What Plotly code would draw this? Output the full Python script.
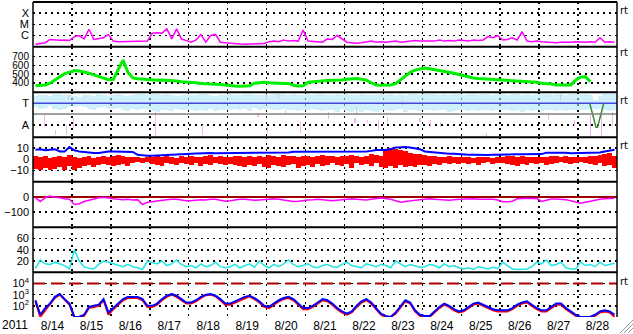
import pandas as pd
import plotly.graph_objects as go

# ---------------- data (3-hour slots from 2011-08-14 00:00) ----------------
start = pd.Timestamp("2011-08-14")
slots = pd.date_range(start, periods=120, freq="3h")

xray_log = [
    -6.79, -6.70, -6.64, -6.35, -6.40, -6.42, -6.40, -6.45,
    -6.10, -6.00, -6.30, -5.44, -6.35, -6.30, -6.20, -5.90,
    -6.50, -6.55, -6.55, -6.50, -6.55, -6.50, -6.55, -6.50,
    -5.80, -5.75, -5.80, -5.40, -6.30, -5.40, -6.30, -6.45,
    -6.60, -6.40, -5.90, -6.60, -6.00, -5.90, -6.60, -6.65,
    -6.70, -6.72, -6.76, -6.78, -6.76, -6.78, -6.75, -6.72,
    -6.55, -6.50, -6.55, -6.40, -6.50, -6.45, -6.50, -5.50,
    -6.50, -6.55, -6.55, -6.60, -6.30, -6.35, -6.00, -6.30,
    -6.60, -6.65, -6.70, -6.65, -6.60, -6.50, -6.60, -6.55,
    -6.60, -6.55, -6.50, -6.60, -6.55, -6.50, -6.45, -6.50,
    -6.50, -6.45, -6.50, -6.40, -6.50, -6.45, -6.50, -6.40,
    -6.45, -6.50, -6.40, -6.45, -6.40, -6.10, -6.20, -6.00,
    -6.40, -6.35, -6.20, -6.40, -5.66, -6.50, -6.55, -6.50,
    -6.55, -6.60, -6.62, -6.65, -6.60, -6.62, -6.60, -6.55,
    -6.60, -6.60, -6.55, -6.60, -6.20, -6.60, -6.55, -6.60,
]

speed = [
    365, 370, 375, 395, 430, 470, 505, 520,
    540, 535, 525, 510, 490, 470, 450, 435,
    440, 560, 660, 520, 455, 445, 440, 438,
    435, 430, 432, 428, 430, 420, 412, 410,
    405, 400, 390, 385, 385, 383, 380, 372,
    365, 362, 360, 362, 365, 395, 400, 405,
    400, 395, 393, 390, 392, 370, 362, 365,
    405, 412, 415, 420, 425, 430, 428, 432,
    440, 445, 448, 440, 430, 400, 375, 370,
    372, 375, 390, 430, 480, 520, 545, 560,
    570, 560, 550, 545, 535, 525, 510, 495,
    480, 465, 455, 448, 445, 440, 438, 435,
    430, 425, 420, 418, 420, 415, 410, 405,
    395, 393, 385, 375, 373, 373, 375, 430,
    465, 470, 412, None, None, None, None, None,
]

phi_hi = [
    330, 335, 340, 330, 346, 350, 340, 335,
    330, 320, 335, 340, 330, 345, 340, 330,
    340, 346, 335, 330, 338, 345, 350, 340,
    346, 350, 340, 345, 338, 330, 340, 335,
    340, 335, 345, 350, 340, 330, 338, 342,
    345, 340, 336, 350, 345, 338, 342, 335,
    340, 346, 350, 345, 338, 344, 340, 336,
    346, 340, 345, 350, 338, 342, 346, 340,
    344, 338, 342, 346, 340, 336, 342, 345,
    340, 346, 342, 350, 338, 344, 348, 342,
    346, 350, 344, 340, 348, 342, 346, 350,
    342, 346, 350, 340, 344, 348, 342, 346,
    346, 340, 345, 350, 342, 346, 340, 344,
    350, 346, 342, 348, 344, 340, 346, 350,
    344, 346, 340, 300, 330, 346, 348, 350,
]
phi_lo = [
    240, 230, 235, 250, 230, 215, 225, 240,
    245, 250, 240, 230, 220, 235, 240, 230,
    230, 235, 222, 210, 225, 218, 230, 224,
    210, 205, 215, 220, 210, 225, 215, 220,
    215, 208, 220, 212, 225, 210, 218, 222,
    220, 230, 215, 225, 210, 235, 220, 225,
    225, 215, 220, 230, 218, 222, 210, 215,
    215, 225, 220, 210, 218, 222, 205, 225,
    210, 200, 215, 205, 220, 210, 200, 215,
    220, 210, 215, 225, 205, 218, 222, 210,
    215, 220, 210, 222, 215, 205, 212, 220,
    218, 212, 220, 208, 215, 222, 210, 218,
    215, 222, 210, 218, 205, 220, 212, 216,
    210, 218, 222, 212, 215, 208, 220, 215,
    215, 220, 225, 230, 225, 215, 210, 220,
]

# sparse "away" (pink) and grey phi marks: day offset, low, high
pink_day = [0.29, 1.03, 3.15, 4.35, 5.78, 6.02, 6.86, 8.27, 8.58, 8.87, 9.10, 9.94, 10.20, 10.46, 13.25, 13.90, 14.33, 14.60, 14.88, 14.98]
pink_lo = [82, 74, 2, 18, 162, 34, 34, 114, 114, 58, 114, 122, 82, 82, 138, 90, 10, 2, 100, 40]
pink_hi = [178, 154, 202, 98, 194, 82, 122, 154, 138, 138, 162, 154, 138, 122, 194, 140, 178, 218, 200, 160]
grey_day = [0.57, 0.85, 0.90, 6.00, 6.30, 6.48, 7.60, 8.30, 9.50, 11.65, 13.30, 13.55]
grey_lo = [18, 18, 300, 300, 310, 194, 150, 180, 250, 2, 320, 300]
grey_hi = [58, 98, 340, 350, 345, 218, 200, 240, 300, 34, 350, 350]
model_day = [14.30, 14.46, 14.50, 14.66]
model_phi = [272, 80, 80, 272]

bt = [
    8.5, 9, 8, 8.5, 9, 7, 7, 11,
    8, 7, 6.5, 5.5, 5.5, 5.5, 6.5, 7,
    7, 7, 7, 7, 6.5, 4, 3.5, 3.2,
    3.2, 3.5, 3.8, 4, 4, 4.2, 4.5, 4.8,
    5, 5.2, 5.5, 5.5, 5.5, 5.4, 5.4, 5.4,
    5.4, 5.4, 5.4, 5.4, 5.4, 5.4, 5.4, 5.5,
    5.4, 5.4, 5.4, 5.5, 6, 6.8, 6.8, 7,
    6.8, 6.8, 6.8, 6.8, 6.8, 6.8, 7, 6.8,
    6.8, 6.8, 6.8, 6.8, 7, 7.5, 8.3, 8.3,
    8.3, 9, 10.5, 10.7, 11, 10.5, 10, 9,
    7, 6.5, 6, 5.5, 5.5, 5, 5, 4.5,
    4.2, 4, 4, 3.8, 3.8, 3.8, 4, 4.2,
    4.5, 4.5, 4.5, 4.5, 4.5, 4.5, 4.6, 4.6,
    4.6, 5.9, 6, 6, 5.9, 5.8, 5.4, 5.4,
    5.4, 5.4, 5.4, 5.4, 6, 7, 8, 8.5,
]
bz_lo = [
    -9, -10, -8, -10, -9, -7, -10, -6,
    -10, -8, -6, -5, -7, -5, -4, -5,
    -6, -5, -4, -6, -3, -2, -3, -2,
    -4, -5, -6, -3, -4, -5, -3, -4,
    -5, -3, -6, -4, -5, -3, -4, -5,
    -4, -5, -6, -7, -5, -6, -4, -7,
    -8, -5, -6, -7, -5, -4, -8, -6,
    -5, -7, -4, -6, -5, -3, -5, -6,
    -4, -8, -3, -5, -4, -6, -3, -7,
    -8, -6, -8, -5, -7, -6, -7, -5,
    -5, -6, -4, -5, -3, -4, -3, -4,
    -3, -4, -3, -5, -3, -2, -4, -3,
    -3, -4, -5, -6, -4, -5, -3, -4,
    -3, -5, -4, -3, -2, -3, -4, -3,
    -2, -3, -4, -5, -3, -6, -5, -8,
]
bz_hi = [
    3, 2, 3, 1, 2, 3, 2, 4,
    2, 1, 2, 3, 1, 2, 3, 2,
    3, 4, 3, 2, 2, 2, 1, 2,
    2, 3, 2, 3, 2, 1, 3, 2,
    3, 2, 2, 3, 4, 2, 3, 2,
    2, 3, 3, 2, 3, 2, 3, 2,
    4, 3, 2, 4, 3, 3, 2, 3,
    3, 2, 3, 4, 3, 3, 2, 3,
    3, 4, 3, 2, 3, 5, 4, 3,
    8, 10, 9, 8, 7, 6, 5, 5,
    4, 3, 3, 2, 2, 3, 2, 2,
    2, 2, 1, 2, 2, 2, 1, 2,
    2, 3, 3, 2, 3, 2, 2, 2,
    2, 2, 3, 3, 2, 3, 2, 2,
    2, 2, 3, 3, 4, 5, 6, 3,
]

dst = [
    -5, -30, -5, 5, -3, -5, -12, -16,
    -50, -45, -30, -20, -10, -5, -3, -10,
    -12, -15, -18, -15, -20, -18, -50, -35,
    -30, -25, -20, -18, -15, -15, -20, -25,
    -25, -20, -18, -20, -15, -15, -20, -28,
    -25, -20, -15, -15, -18, -22, -20, -18,
    -15, -12, -15, -20, -25, -30, -28, -22,
    -20, -18, -15, -18, -20, -25, -22, -18,
    -15, -12, -15, -18, -20, -15, -10, -8,
    -10, -15, -25, -35, -30, -25, -20, -18,
    -15, -12, -15, -18, -20, -22, -18, -15,
    -14, -14, -12, -15, -14, -14, -15, -20,
    -32, -32, -28, -12, -9, -9, -10, -9,
    -30, -20, -14, -14, -14, -18, -25, -35,
    -42, -35, -28, -20, -15, -12, -10, -9,
]

panel6 = [
    7, 22, 15, 14, 18, 15, 12, 6,
    40, 20, 10, 7, 6, 14, 20, 18,
    15, 12, 10, 14, 10, 8, 5, 20,
    18, 15, 20, 12, 15, 22, 14, 10,
    12, 8, 15, 10, 12, 18, 10, 8,
    10, 14, 8, 12, 15, 9, 20, 12,
    8, 14, 10, 15, 22, 14, 10, 12,
    15, 10, 8, 12, 14, 10, 9, 14,
    18, 12, 10, 8, 15, 12, 10, 14,
    12, 8, 20, 15, 10, 14, 12, 9,
    10, 14, 12, 8, 15, 10, 12, 8,
    6, 8, 5, 10, 8, 6, 9, 7,
    18, 12, 6, 5, 5, 6, 10, 18,
    15, 22, 12, 14, 18, 8, 6, 6,
    18, 12, 14, 10, 18, 12, 14, 16,
]

elec_blue_log = [
    2.5, 1.2, 1.8, 2.2, 2.8, 3.05, 2.6, 2.2,
    1.0, 1.0, 1.2, 1.9, 2.0, 2.1, 2.6, 1.4,
    1.8, 2.2, 2.6, 2.8, 2.8, 2.8, 2.6, 2.0,
    2.0, 2.2, 2.6, 2.9, 3.05, 2.9, 2.6, 2.3,
    2.3, 2.5, 2.8, 3.0, 3.05, 2.9, 2.6, 2.2,
    2.2, 2.4, 2.6, 2.8, 2.9, 2.7, 2.4, 2.0,
    1.9, 2.2, 2.5, 2.7, 2.8, 2.6, 2.2, 1.8,
    1.8, 2.0, 2.3, 2.6, 2.5, 2.2, 1.8, 1.5,
    1.3, 1.5, 2.0, 2.4, 2.6, 2.3, 1.8, 1.3,
    1.1, 1.0, 1.4, 2.0, 2.5, 2.3, 1.6, 1.2,
    1.1, 1.1, 1.5, 1.9, 2.2, 2.0, 1.7, 1.5,
    1.6, 1.9, 2.2, 2.3, 2.1, 1.9, 1.7, 1.6,
    1.6, 1.6, 1.8, 2.1, 2.3, 2.4, 2.1, 1.8,
    1.6, 1.6, 1.9, 2.2, 2.2, 1.8, 1.5, 1.2,
    1.0, 1.0, 1.0, 1.2, 1.5, 1.6, 1.5, 1.2,
]
elec_red_log = [
    2.4, 1.0, 1.6, 2.1, 2.7, 3.0, 2.5, 2.1,
    1.0, 1.0, 1.1, 1.8, 1.9, 2.0, 2.5, 1.2,
    1.7, 2.1, 2.5, 2.7, 2.7, 2.7, 2.5, 1.9,
    1.9, 2.1, 2.5, 2.8, 3.0, 2.8, 2.5, 2.2,
    2.2, 2.4, 2.7, 2.95, 3.0, 2.85, 2.5, 2.1,
    2.1, 2.3, 2.5, 2.7, 2.85, 2.6, 2.3, 1.9,
    1.8, 2.1, 2.4, 2.6, 2.7, 2.5, 2.1, 1.7,
    1.7, 1.9, 2.2, 2.5, 2.4, 2.1, 1.7, 1.4,
    1.2, 1.4, 1.9, 2.3, 2.5, 2.2, 1.7, 1.2,
    1.0, 1.0, 1.3, 1.9, 2.4, 2.2, 1.5, 1.1,
    1.0, 1.0, 1.4, 1.8, 2.1, 1.9, 1.6, 1.4,
    1.5, 1.8, 2.1, 2.2, 2.0, 1.8, 1.6, 1.5,
    1.5, 1.5, 1.7, 2.0, 2.2, 2.3, 2.0, 1.7,
    1.5, 1.5, 1.8, 2.1, 2.1, 1.7, 1.4, 1.1,
    1.0, 1.0, 1.0, 1.1, 1.4, 1.5, 1.4, 1.0,
]

day_labels = ["8/14", "8/15", "8/16", "8/17", "8/18", "8/19", "8/20", "8/21",
              "8/22", "8/23", "8/24", "8/25", "8/26", "8/27", "8/28"]
xray_ticks = [1e-4, 1e-5, 1e-6]
xray_text = ["X", "M", "C"]
speed_ticks = [700, 600, 500, 400]
phi_ticks = [272, 98]
phi_text = ["T", "A"]
b_ticks = [10, 0, -10]
dst_ticks = [0, -100]
p6_ticks = [60, 40, 20]
e_ticks = [1e4, 1e3, 1e2]
e_text = ["10<sup>4</sup>", "10<sup>3</sup>", "10<sup>2</sup>"]

# ---------------- figure ----------------
W, H = 633, 334
ML, MR, MT, MB = 33, 16, 2, 17
PH = H - MT - MB
bounds_px = [2, 46.7, 92.3, 137.3, 181.7, 227.3, 272.3, 317]


def py(px):
    return (317 - px) / PH


def px_x(px):
    return (px - ML) / (W - ML - MR)


domains = [[py(bounds_px[i + 1]), py(bounds_px[i])] for i in range(7)]
mid = slots + pd.Timedelta(hours=1.5)
slot_ms = 3 * 3600 * 1000
day = pd.Timedelta(days=1)

fig = go.Figure()
xray = [10 ** v for v in xray_log]
fig.add_trace(go.Scatter(x=mid, y=xray, yaxis="y", mode="lines", line=dict(color="#ff00ff", width=1.5)))
fig.add_trace(go.Scatter(x=mid, y=speed, yaxis="y2", mode="lines", line=dict(color="#00ee00", width=3)))

phi_base = phi_lo
phi_h = [h - l for h, l in zip(phi_hi, phi_lo)]
fig.add_trace(go.Bar(x=mid, y=phi_h, base=phi_base, yaxis="y3", width=slot_ms, opacity=0.6,
                     marker=dict(color="#b0e6fa", line=dict(width=0))))
fig.add_trace(go.Bar(x=[start + d * day for d in pink_day], y=[h - l for h, l in zip(pink_hi, pink_lo)], base=pink_lo,
                     yaxis="y3", width=2400 * 1000, marker=dict(color="#f4b4f0", line=dict(width=0))))
fig.add_trace(go.Bar(x=[start + d * day for d in grey_day], y=[h - l for h, l in zip(grey_hi, grey_lo)], base=grey_lo,
                     yaxis="y3", width=2400 * 1000, marker=dict(color="#cccccc", line=dict(width=0))))
fig.add_trace(go.Scatter(x=[start + d * day for d in model_day], y=model_phi, yaxis="y3", mode="lines",
                         line=dict(color="#3c8a3c", width=1.5)))

fig.add_trace(go.Bar(x=mid, y=[h - l for h, l in zip(bz_hi, bz_lo)], base=bz_lo, yaxis="y4", width=slot_ms,
                     marker=dict(color="#ff0000", line=dict(width=0))))
fig.add_trace(go.Scatter(x=mid, y=bt, yaxis="y4", mode="lines", line=dict(color="#0000ff", width=2)))

fig.add_trace(go.Scatter(x=mid, y=dst, yaxis="y5", mode="lines", line=dict(color="#ff00ff", width=1.5)))
fig.add_trace(go.Scatter(x=mid, y=panel6, yaxis="y6", mode="lines", line=dict(color="#22e4e4", width=1.5)))
fig.add_trace(go.Scatter(x=mid, y=[10 ** v for v in elec_red_log], yaxis="y7", mode="lines", line=dict(color="#ff0000", width=2)))
fig.add_trace(go.Scatter(x=mid, y=[10 ** v for v in elec_blue_log], yaxis="y7", mode="lines", line=dict(color="#0000ff", width=2)))

FONT = dict(family="Liberation Sans, Arial, sans-serif", size=11, color="black")
SFONT = dict(family="Liberation Sans, Arial, sans-serif", size=10, color="black")
XFONT = dict(family="Liberation Sans, Arial, sans-serif", size=12, color="black")
grid = dict(showgrid=True, gridcolor="black", griddash="2px,4px", gridwidth=1.5)

noon = [start + pd.Timedelta(hours=12) + i * day for i in range(15)]
layout = dict(
    width=W, height=H, margin=dict(l=ML, r=MR, t=MT, b=MB),
    paper_bgcolor="white", plot_bgcolor="white", showlegend=False, barmode="overlay",
    font=FONT, bargap=0,
    xaxis=dict(range=[start, start + 15 * day], anchor="y7", domain=[0, 1], tickmode="array", tickvals=noon,
               ticktext=day_labels, showgrid=False, ticks="", zeroline=False, tickfont=XFONT, ticklabelstandoff=0,
               minor=dict(dtick=86400000, tick0=start, showgrid=True, gridcolor="black", griddash="2px,4px",
                          gridwidth=1.5, ticks="")),
)
ycfg = [
    dict(type="log", range=[-7, -3], tickvals=xray_ticks, ticktext=xray_text),
    dict(range=[290, 815], tickvals=speed_ticks, tickfont=SFONT),
    dict(range=[0, 360], tickvals=phi_ticks, ticktext=phi_text),
    dict(range=[-20, 19.6], tickvals=b_ticks, zeroline=True, zerolinecolor="#a00000", zerolinewidth=2),
    dict(range=[-200, 100], tickvals=dst_ticks, zeroline=True, zerolinecolor="#a00000", zerolinewidth=2),
    dict(range=[0, 80], tickvals=p6_ticks),
    dict(type="log", range=[1, 5], tickvals=e_ticks, ticktext=e_text),
]
for i, c in enumerate(ycfg):
    key = "yaxis" if i == 0 else f"yaxis{i + 1}"
    base = dict(domain=domains[i], anchor="x", ticks="", tickfont=FONT, fixedrange=True, zeroline=False,
                showline=False, ticklabelstandoff=3)
    base.update(grid)
    base.update(c)
    layout[key] = base
fig.update_layout(**layout)

shapes = []
# phi reference lines
shapes.append(dict(type="line", xref="paper", x0=0, x1=1, yref="y3", y0=phi_ticks[0], y1=phi_ticks[0],
                   line=dict(color="#4646dc", width=1.5)))
shapes.append(dict(type="line", xref="paper", x0=0, x1=1, yref="y3", y0=186, y1=186,
                   line=dict(color="#808080", width=1.5)))
# electron alert threshold
shapes.append(dict(type="line", xref="paper", x0=0, x1=1, yref="y7", y0=1e4, y1=1e4,
                   line=dict(color="#b00000", width=2, dash="12px,6px")))
# panel separators and frame
for b in bounds_px[:-1]:
    shapes.append(dict(type="line", xref="paper", x0=0, x1=1, yref="paper", y0=py(b), y1=py(b),
                       line=dict(color="black", width=2)))
shapes.append(dict(type="line", xref="paper", x0=0, x1=0, yref="paper", y0=0, y1=1, line=dict(color="black", width=1.5)))
shapes.append(dict(type="line", xref="paper", x0=1, x1=1, yref="paper", y0=0, y1=1, line=dict(color="black", width=1.5)))
# window resize grip
for k in (0, 4, 8):
    shapes.append(dict(type="line", xref="paper", yref="paper", x0=px_x(620 + k), y0=py(333), x1=px_x(633), y1=py(320 + k),
                       line=dict(color="#9a9a9a", width=1)))
fig.update_layout(shapes=shapes)

ann = [dict(text="2011", xref="paper", yref="paper", x=px_x(15), y=py(325.5), showarrow=False,
            xanchor="center", yanchor="middle", font=XFONT)]
for ypx in (10, 53, 100, 145, 281):
    ann.append(dict(text="rt", xref="paper", yref="paper", x=px_x(618), y=py(ypx), showarrow=False,
                    xanchor="left", yanchor="middle", font=dict(family="DejaVu Sans", size=10, color="black")))
fig.update_layout(annotations=ann)

fig.write_html("out.html", config={"displayModeBar": False, "staticPlot": True},
               post_script="document.body.style.margin='0';document.body.style.overflow='hidden';")
